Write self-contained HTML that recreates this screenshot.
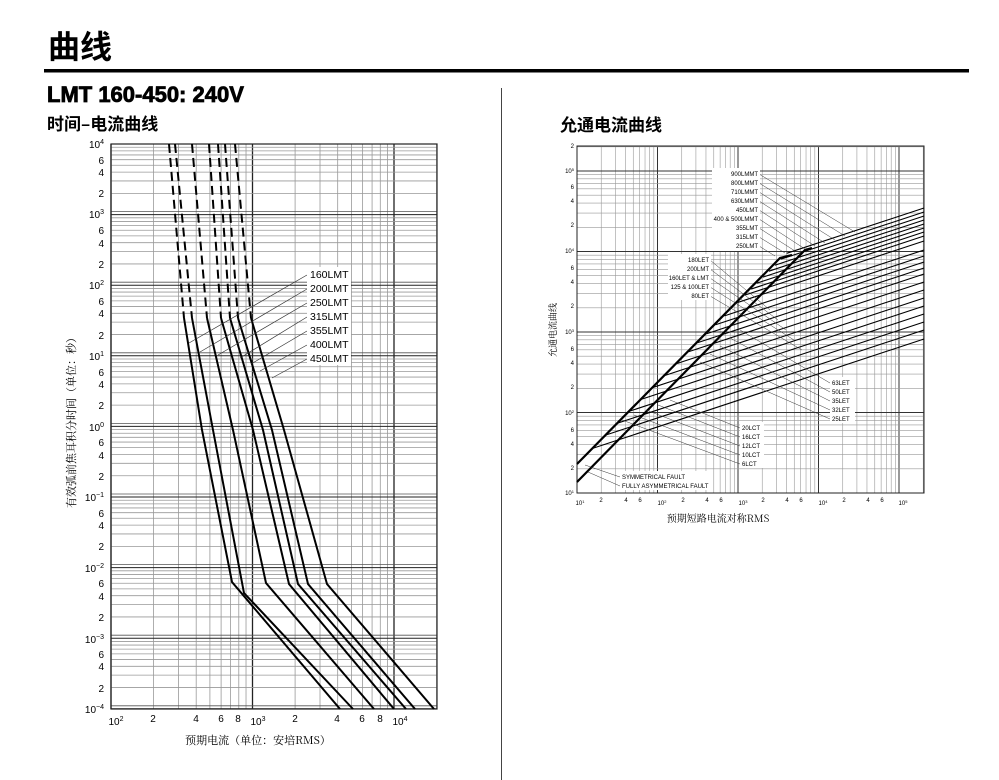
<!DOCTYPE html>
<html><head><meta charset="utf-8"><style>
body{margin:0;background:#fff;width:999px;height:780px;overflow:hidden;position:relative;font-family:"Liberation Sans","Noto Sans CJK SC",sans-serif}
svg{position:absolute;left:0;top:0}
</style></head><body>
<svg id="s" width="999" height="780" xmlns="http://www.w3.org/2000/svg" font-family="Liberation Sans, Noto Sans CJK SC, sans-serif">
<text x="48" y="58" font-size="32" font-weight="bold" font-family="Noto Sans CJK SC, sans-serif">曲线</text>
<rect x="44" y="69" width="925" height="3.5" fill="#000"/>
<text x="47" y="102" font-size="22" font-weight="900" font-family="Liberation Sans, sans-serif" stroke="#000" stroke-width="0.8">LMT 160-450: 240V</text>
<text x="47" y="130" font-size="17" font-weight="bold" font-family="Noto Sans CJK SC, sans-serif">时间–电流曲线</text>
<text x="560" y="131" font-size="17" font-weight="bold" font-family="Noto Sans CJK SC, sans-serif">允通电流曲线</text>
<line x1="501.5" y1="88" x2="501.5" y2="780" stroke="#444" stroke-width="1"/>
<g id="L"></g><g id="R"></g>
<g fill="#fff">
<rect x="307" y="267" width="44" height="98"/>
<rect x="712" y="168" width="48" height="83"/>
<rect x="668" y="254" width="43" height="46"/>
<rect x="830" y="377" width="25" height="46"/>
<rect x="740" y="422" width="24" height="46"/>
<rect x="620" y="471" width="90" height="19"/>
</g>
<g font-size="10" text-anchor="end" fill="#000">
<text x="104" y="148">10<tspan font-size="7" dy="-4">4</tspan></text>
<text x="104" y="218">10<tspan font-size="7" dy="-4">3</tspan></text>
<text x="104" y="289">10<tspan font-size="7" dy="-4">2</tspan></text>
<text x="104" y="360">10<tspan font-size="7" dy="-4">1</tspan></text>
<text x="104" y="431">10<tspan font-size="7" dy="-4">0</tspan></text>
<text x="104" y="501">10<tspan font-size="7" dy="-4">−1</tspan></text>
<text x="104" y="572">10<tspan font-size="7" dy="-4">−2</tspan></text>
<text x="104" y="643">10<tspan font-size="7" dy="-4">−3</tspan></text>
<text x="104" y="713">10<tspan font-size="7" dy="-4">−4</tspan></text>
<text x="104" y="164">6</text><text x="104" y="176">4</text><text x="104" y="197">2</text>
<text x="104" y="234">6</text><text x="104" y="247">4</text><text x="104" y="268">2</text>
<text x="104" y="305">6</text><text x="104" y="317">4</text><text x="104" y="339">2</text>
<text x="104" y="376">6</text><text x="104" y="388">4</text><text x="104" y="409">2</text>
<text x="104" y="446">6</text><text x="104" y="459">4</text><text x="104" y="480">2</text>
<text x="104" y="517">6</text><text x="104" y="529">4</text><text x="104" y="550">2</text>
<text x="104" y="587">6</text><text x="104" y="600">4</text><text x="104" y="621">2</text>
<text x="104" y="658">6</text><text x="104" y="670">4</text><text x="104" y="692">2</text>
</g>
<g font-size="10" text-anchor="middle">
<text x="116" y="725">10<tspan font-size="7" dy="-4">2</tspan></text>
<text x="153" y="722">2</text><text x="196" y="722">4</text><text x="221" y="722">6</text><text x="238" y="722">8</text>
<text x="258" y="725">10<tspan font-size="7" dy="-4">3</tspan></text>
<text x="295" y="722">2</text><text x="337" y="722">4</text><text x="362" y="722">6</text><text x="380" y="722">8</text>
<text x="400" y="725">10<tspan font-size="7" dy="-4">4</tspan></text>
</g>
<text x="258" y="744" font-size="11" text-anchor="middle" font-family="Noto Serif CJK SC, serif">预期电流（单位：安培RMS）</text>
<text transform="translate(75,420) rotate(-90)" font-size="11" text-anchor="middle" font-family="Noto Serif CJK SC, serif">有效弧前焦耳积分时间（单位：秒）</text>
<g font-size="10.5" fill="#000">
<text x="310" y="278">160LMT</text><text x="310" y="292">200LMT</text><text x="310" y="306">250LMT</text><text x="310" y="320">315LMT</text><text x="310" y="334">355LMT</text><text x="310" y="348">400LMT</text><text x="310" y="362">450LMT</text>
</g>
<g font-size="6" text-anchor="end">
<text x="574" y="148">2</text><text x="574" y="173">10<tspan font-size="4" dy="-2">5</tspan></text><text x="574" y="189">6</text><text x="574" y="203">4</text><text x="574" y="227">2</text>
<text x="574" y="253">10<tspan font-size="4" dy="-2">4</tspan></text><text x="574" y="270">6</text><text x="574" y="284">4</text><text x="574" y="308">2</text>
<text x="574" y="334">10<tspan font-size="4" dy="-2">3</tspan></text><text x="574" y="351">6</text><text x="574" y="365">4</text><text x="574" y="389">2</text>
<text x="574" y="415">10<tspan font-size="4" dy="-2">2</tspan></text><text x="574" y="432">6</text><text x="574" y="446">4</text><text x="574" y="470">2</text>
<text x="574" y="495">10<tspan font-size="4" dy="-2">1</tspan></text>
</g>
<g font-size="6" text-anchor="middle">
<text x="580" y="505">10<tspan font-size="4" dy="-2">1</tspan></text><text x="601" y="502">2</text><text x="626" y="502">4</text><text x="640" y="502">6</text>
<text x="662" y="505">10<tspan font-size="4" dy="-2">2</tspan></text><text x="683" y="502">2</text><text x="707" y="502">4</text><text x="721" y="502">6</text>
<text x="743" y="505">10<tspan font-size="4" dy="-2">3</tspan></text><text x="763" y="502">2</text><text x="787" y="502">4</text><text x="801" y="502">6</text>
<text x="823" y="505">10<tspan font-size="4" dy="-2">4</tspan></text><text x="844" y="502">2</text><text x="868" y="502">4</text><text x="882" y="502">6</text>
<text x="903" y="505">10<tspan font-size="4" dy="-2">5</tspan></text>
</g>
<text x="718" y="522" font-size="10" text-anchor="middle" font-family="Noto Serif CJK SC, serif">预期短路电流对称RMS</text>
<text transform="translate(556,330) rotate(-90)" font-size="9" text-anchor="middle" font-family="Noto Serif CJK SC, serif">允通电流曲线</text>
<g font-size="6" text-anchor="end">
<text x="758" y="176">900LMMT</text><text x="758" y="185">800LMMT</text><text x="758" y="194">710LMMT</text><text x="758" y="203">630LMMT</text><text x="758" y="212">450LMT</text><text x="758" y="221">400 &amp; 500LMMT</text><text x="758" y="230">355LMT</text><text x="758" y="239">315LMT</text><text x="758" y="248">250LMT</text>
<text x="709" y="262">180LET</text><text x="709" y="271">200LMT</text><text x="709" y="280">160LET &amp; LMT</text><text x="709" y="289">125 &amp; 100LET</text><text x="709" y="298">80LET</text>
</g>
<g font-size="6">
<text x="832" y="385">63LET</text><text x="832" y="394">50LET</text><text x="832" y="403">35LET</text><text x="832" y="412">32LET</text><text x="832" y="421">25LET</text>
<text x="742" y="430">20LCT</text><text x="742" y="439">16LCT</text><text x="742" y="448">12LCT</text><text x="742" y="457">10LCT</text><text x="742" y="466">6LCT</text>
<text x="622" y="479">SYMMETRICAL FAULT</text><text x="622" y="488">FULLY ASYMMETRICAL FAULT</text>
</g>
</svg>
<script>
(function(){
var NS="http://www.w3.org/2000/svg";
function el(p,t,a){var e=document.createElementNS(NS,t);for(var k in a)e.setAttribute(k,a[k]);p.appendChild(e);return e;}
var L=document.getElementById("L"),R=document.getElementById("R");
var x0=111,x1=437,y0=144,y1=709,dx=141.5,dy=70.6;
for(var d=0;d<3;d++)for(var m=1;m<10;m++){var x=x0+(d+Math.log10(m))*dx;if(x>x1)break;el(L,"line",{x1:x,y1:y0,x2:x,y2:y1,stroke:m==1?"#222":"#999","stroke-width":m==1?1.3:0.8});}
for(var d=0;d<8;d++)for(var m=1;m<10;m++){var y=y0+(8-d-Math.log10(m))*dy;if(y<y0)continue;el(L,"line",{x1:x0,y1:y,x2:x1,y2:y,stroke:m==1?"#222":"#999","stroke-width":m==1?1:0.8});if(m==1){el(L,"line",{x1:x0,y1:y-3,x2:x1,y2:y-3,stroke:"#555","stroke-width":0.8});}}
el(L,"rect",{x:x0,y:y0,width:x1-x0,height:y1-y0,fill:"none",stroke:"#222","stroke-width":1.2});
var tp=[169,175,192,209,218,225,235],mid=[184,192,207,221,230,238,251],m2=[202,213,233,253,263,272,284],
kx=[232,244,266,289,298,308,327],ky=[582,593,583,584,584,584,584],bx=[340,353,374,394,406,415,434];
for(var i=0;i<7;i++){
el(L,"line",{x1:tp[i],y1:y0,x2:mid[i],y2:318,stroke:"#000","stroke-width":2,"stroke-dasharray":"9,5"});
el(L,"polyline",{points:mid[i]+",318 "+m2[i]+",430 "+kx[i]+","+ky[i]+" "+bx[i]+","+y1,fill:"none",stroke:"#000","stroke-width":2});
}
var le=[[189,343],[200,352],[218,355],[240,358],[251,364],[260,371],[272,378]];
for(var i=0;i<7;i++)el(L,"line",{x1:307,y1:275+14*i,x2:le[i][0],y2:le[i][1],stroke:"#333","stroke-width":0.7});
var X0=577,X1=924,Y0=146,Y1=493,D=80.5;
for(var d=0;d<5;d++)for(var m=1;m<10;m++){var x=X0+(d+Math.log10(m))*D;if(x>X1)break;el(R,"line",{x1:x,y1:Y0,x2:x,y2:Y1,stroke:m==1?"#333":"#999","stroke-width":m==1?1:0.6});}
for(var d=0;d<5;d++)for(var m=1;m<10;m++){var y=Y1-(d+Math.log10(m))*D;if(y<Y0)break;el(R,"line",{x1:X0,y1:y,x2:X1,y2:y,stroke:m==1?"#333":"#999","stroke-width":m==1?1:0.6});}
el(R,"rect",{x:X0,y:Y0,width:X1-X0,height:Y1-Y0,fill:"none",stroke:"#222","stroke-width":1});
var ends=[208,212,216,220,224,228,232,236,241,250,256,262,268,274,282,290,298,306,314,322,330,339];
for(var i=0;i<ends.length;i++){var ye=ends[i];var sx=(739-ye)/0.675;var sy=ye+0.33*(924-sx);
el(R,"line",{x1:sx,y1:sy,x2:X1,y2:ye,stroke:"#000","stroke-width":1.1});}
el(R,"polyline",{points:"577,464 780,258 792,255",fill:"none",stroke:"#000","stroke-width":2.2});
el(R,"polyline",{points:"577,482 805,250 812,248",fill:"none",stroke:"#000","stroke-width":2.2});
function ld(a,b,c,e){el(R,"line",{x1:a,y1:b,x2:c,y2:e,stroke:"#333","stroke-width":0.5});}
var tl=[[855,232],[845,236],[835,240],[825,243],[815,246],[805,249],[795,251],[785,253],[775,256]];
for(var i=0;i<9;i++)ld(759,174+9*i,tl[i][0],tl[i][1]);
for(var i=0;i<5;i++)ld(710,260+9*i,770+i*8,310+i*10);
for(var i=0;i<5;i++)ld(830,383+9*i,740-i*10,330+i*8);
for(var i=0;i<5;i++)ld(740,428+9*i,670-i*12,400+i*5);
ld(620,477,585,465);ld(620,486,588,472);
})();
</script>
</body></html>
